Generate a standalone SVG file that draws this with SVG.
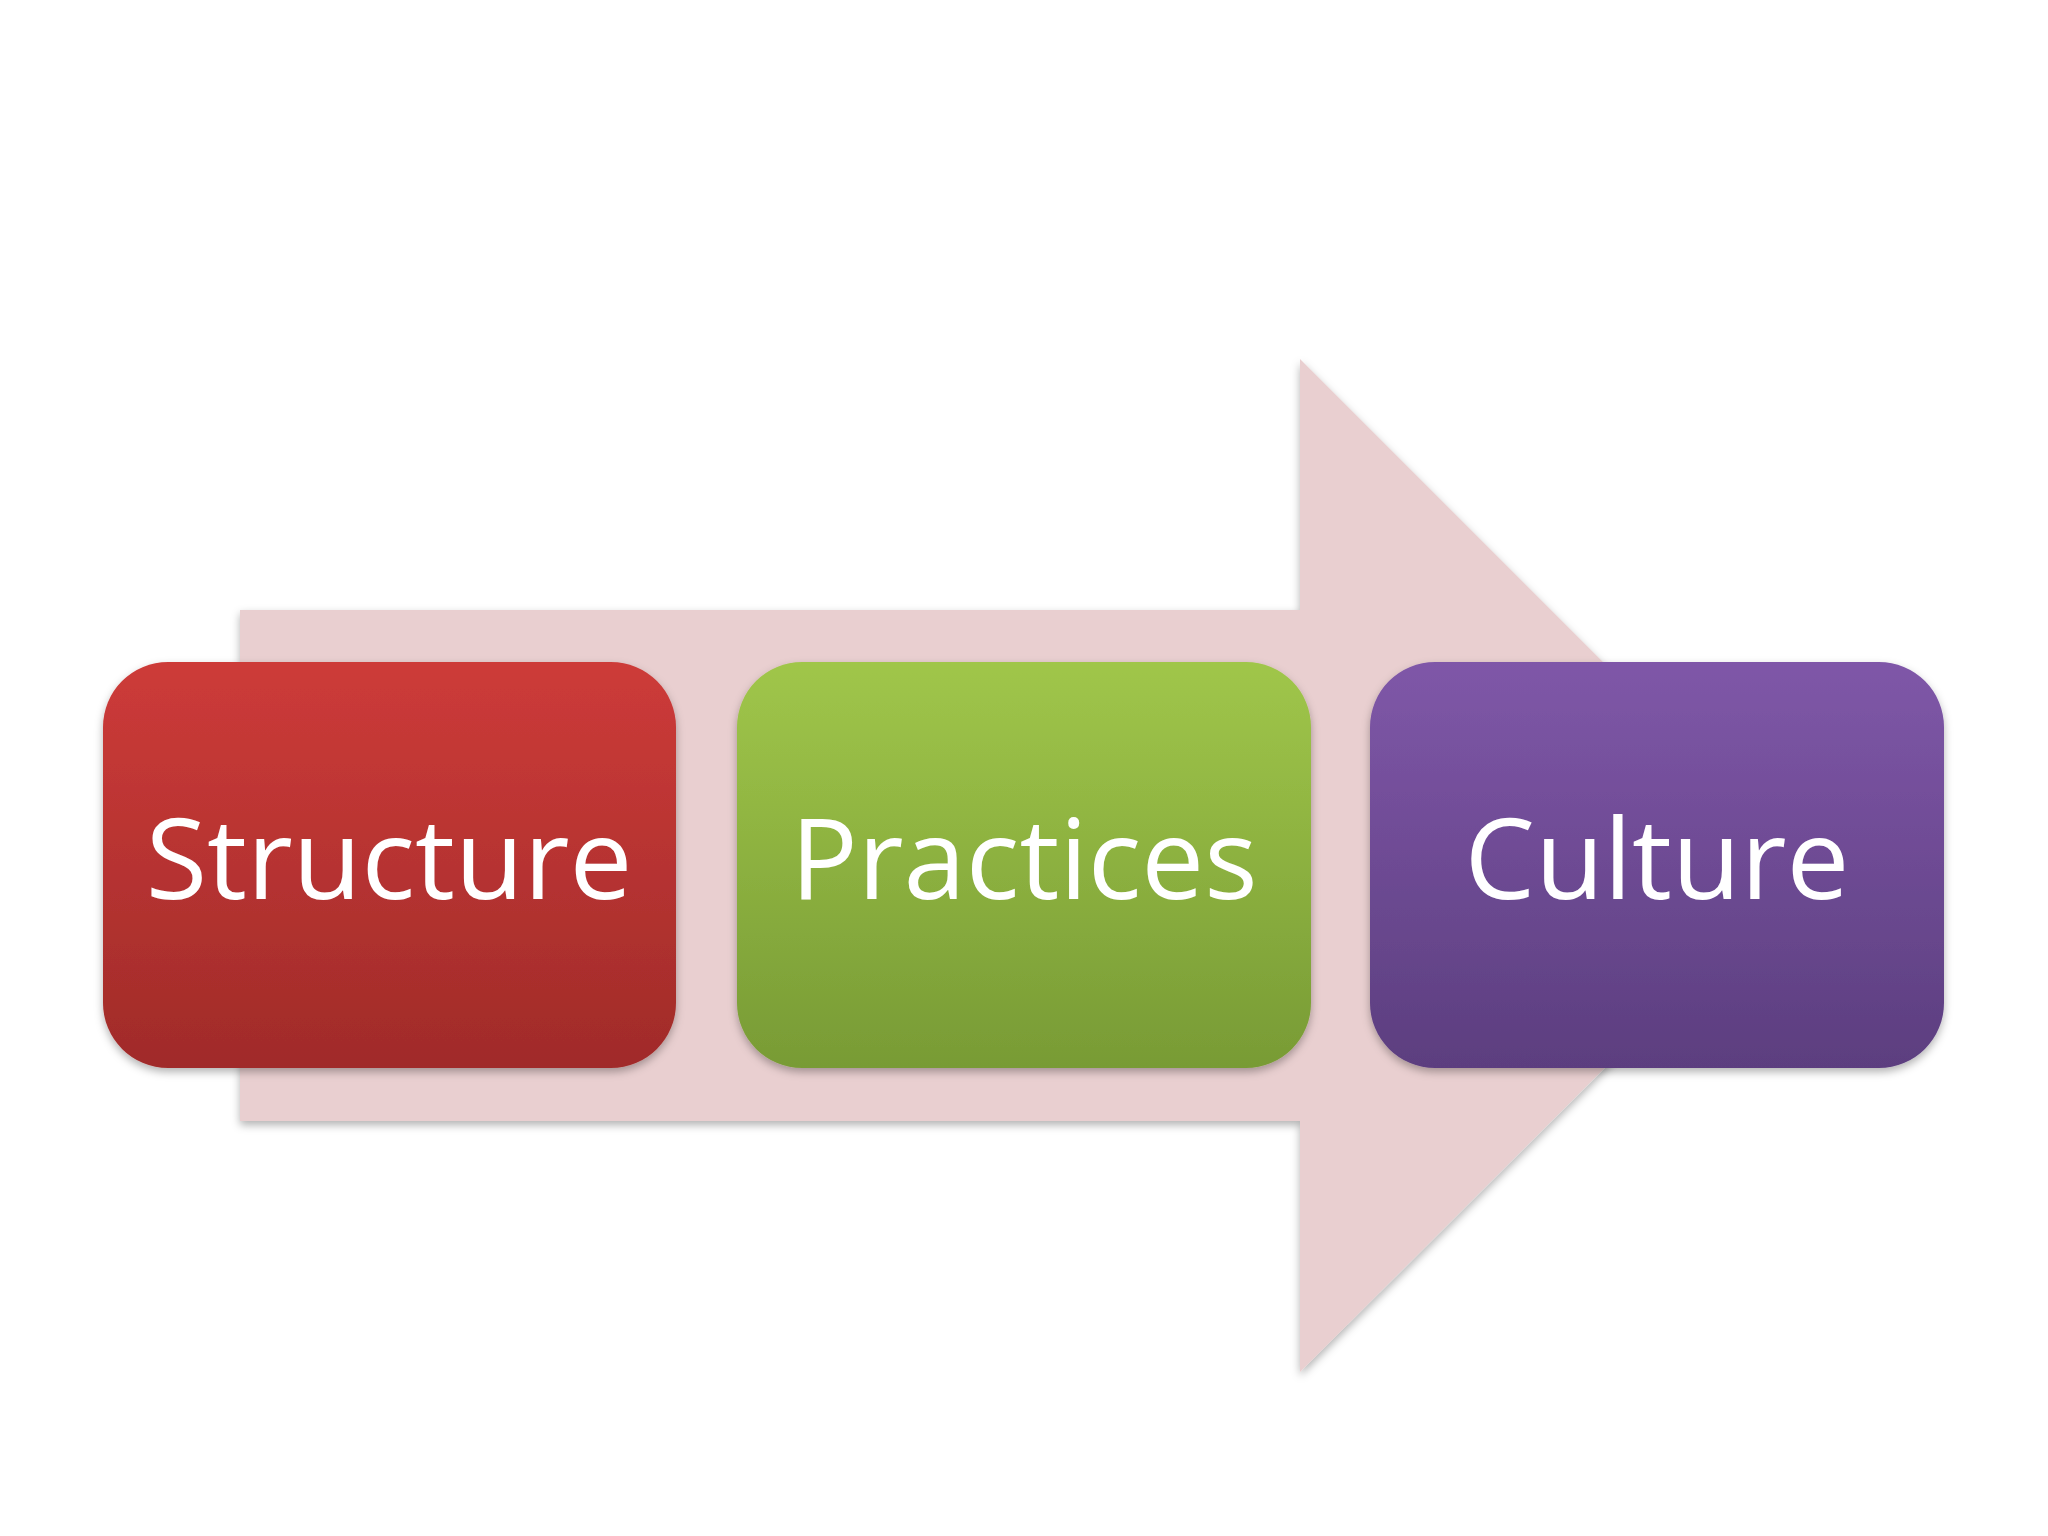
<svg xmlns="http://www.w3.org/2000/svg" width="2048" height="1536" viewBox="0 0 2048 1536">
<defs>
<linearGradient id="gr" x1="0" y1="0" x2="0" y2="1"><stop offset="0" stop-color="#cd3b39"/><stop offset="1" stop-color="#a02b29"/></linearGradient>
<linearGradient id="gg" x1="0" y1="0" x2="0" y2="1"><stop offset="0" stop-color="#a0c64a"/><stop offset="1" stop-color="#789b35"/></linearGradient>
<linearGradient id="gp" x1="0" y1="0" x2="0" y2="1"><stop offset="0" stop-color="#7f57a8"/><stop offset="1" stop-color="#5c3e7f"/></linearGradient>
<filter id="sh" x="-10%" y="-10%" width="120%" height="130%"><feDropShadow dx="0" dy="4" stdDeviation="4" flood-opacity="0.3"/></filter>
</defs>
<style>
text{font-family:"Open Sans","Liberation Sans",sans-serif;font-size:112px;fill:#fff;text-anchor:middle}
</style>
<rect width="2048" height="1536" fill="#fff"/>
<g id="connectors">
<polygon points="240,610 1300,610 1300,359 1807,866 1300,1372 1300,1121 240,1121" fill="#e9cfd0" filter="url(#sh)"/>
</g>
<g id="structure"><rect x="103" y="662" width="573" height="406" rx="65" fill="url(#gr)" filter="url(#sh)"/><text x="389" y="899">Structure</text></g>
<g id="practices"><rect x="737" y="662" width="574" height="406" rx="65" fill="url(#gg)" filter="url(#sh)"/><text x="1024" y="899">Practices</text></g>
<g id="culture"><rect x="1370" y="662" width="574" height="406" rx="65" fill="url(#gp)" filter="url(#sh)"/><text x="1657" y="899">Culture</text></g>
</svg>
